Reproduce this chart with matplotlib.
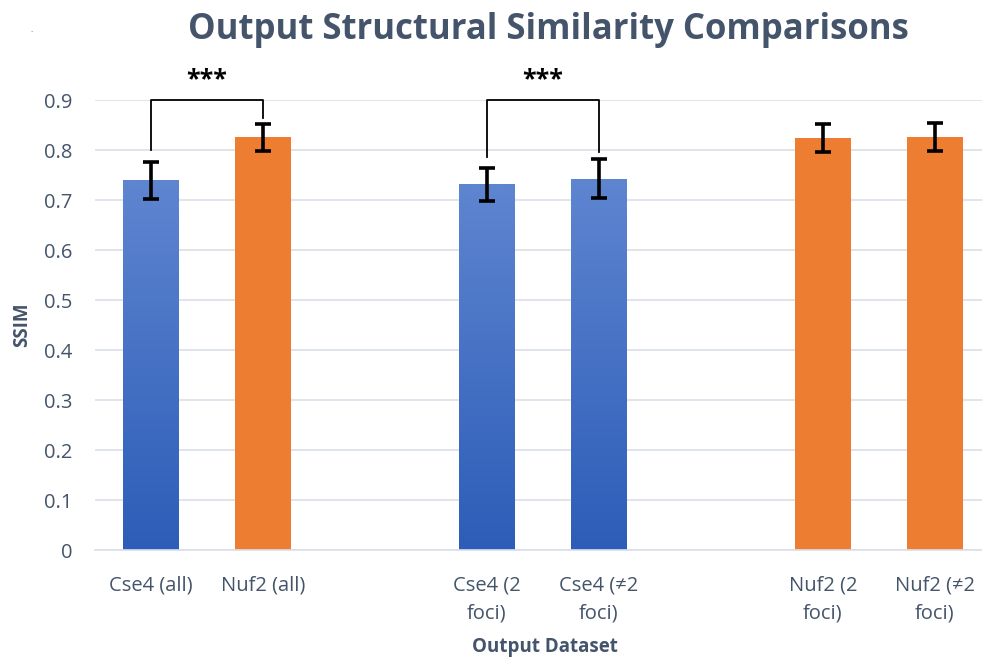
import numpy as np
import matplotlib.pyplot as plt
from matplotlib.colors import LinearSegmentedColormap

plt.rcParams['font.family'] = ['Open Sans', 'DejaVu Sans']

# Datasets (two empty slots separate the groups)
labels = ["Cse4 (all)", "Nuf2 (all)", "", "Cse4 (2\nfoci)", "Cse4 (\u22602\nfoci)",
          "", "Nuf2 (2\nfoci)", "Nuf2 (\u22602\nfoci)"]
ssim = [0.740, 0.826, np.nan, 0.732, 0.743, np.nan, 0.824, 0.826]
ssim_err = [0.037, 0.027, 0, 0.033, 0.039, 0, 0.028, 0.028]
protein = ["Cse4", "Nuf2", "", "Cse4", "Cse4", "", "Nuf2", "Nuf2"]

# significance brackets: (left bar, right bar, left leg end, right leg end)
brackets = [(0, 1, 0.80, 0.864), (3, 4, 0.786, 0.796)]
bracket_top = 0.90

text_col = "#44546A"
orange = "#ED7D31"
blue_grad = LinearSegmentedColormap.from_list("blue", ["#2D5DB8", "#5E85D0"])

fig = plt.figure(figsize=(9.82, 6.60), dpi=100)
ax = fig.add_axes([95 / 982, 110 / 660, 896 / 982, 450 / 660])

x = np.arange(len(labels))
width = 0.5
vals = np.nan_to_num(ssim)
colors = [orange if p == "Nuf2" else "#4472C4" for p in protein]
bars = ax.bar(x, vals, width, color=colors, zorder=2)

# vertical gradient on the Cse4 bars
grad = np.linspace(0, 1, 256).reshape(-1, 1)
for b, p in zip(bars, protein):
    if p != "Cse4":
        continue
    x0, w, h = b.get_x(), b.get_width(), b.get_height()
    im = ax.imshow(grad, cmap=blue_grad, aspect="auto", origin="lower",
                   extent=[x0, x0 + w, 0, h], zorder=2.1)
    im.set_clip_path(b)

mask = ~np.isnan(ssim)
ax.errorbar(x[mask], np.array(ssim)[mask], yerr=np.array(ssim_err)[mask],
            fmt="none", ecolor="black", elinewidth=2.6, capsize=6,
            capthick=2.6, zorder=3)

for i, j, yl, yr in brackets:
    ax.plot([i, i, j, j], [yl, bracket_top, bracket_top, yr], color="black",
            lw=1.3, clip_on=False, zorder=4)
    ax.text((i + j) / 2, bracket_top + 0.04, "***", ha="center", va="center",
            fontsize=18, fontweight="bold", color="black", clip_on=False)

ax.set_xlim(-0.5, len(labels) - 0.5)
ax.set_ylim(0, 0.9)
ax.set_yticks(np.arange(0, 0.91, 0.1))
ax.set_yticklabels(["0"] + [f"{v:.1f}" for v in np.arange(0.1, 0.91, 0.1)])
ax.set_xticks(x)
ax.set_xticklabels(labels, linespacing=1.55)
ax.tick_params(length=0, labelsize=14.5, colors=text_col)
ax.tick_params(axis="y", pad=16)
ax.tick_params(axis="x", pad=18)
ax.grid(axis="y", color="#D9DFEA", lw=1.2, zorder=0)
ax.set_axisbelow(True)
for s in ["top", "right", "left"]:
    ax.spines[s].set_visible(False)
ax.spines["bottom"].set_color("#D9DFEA")
ax.spines["bottom"].set_linewidth(1.2)

fig.text(22 / 982, 1 - 325 / 660, "SSIM", rotation=90, ha="center", va="center",
         fontsize=13.5, fontweight="bold", color=text_col)
fig.text(545 / 982, 1 - 647 / 660, "Output Dataset", ha="center", va="center",
         fontsize=13.5, fontweight="bold", color=text_col)
fig.text(548 / 982, 1 - 30 / 660, "Output Structural Similarity Comparisons",
         ha="center", va="center", fontsize=25, fontweight="bold", color=text_col)
fig.text(32 / 982, 1 - 30 / 660, ".", ha="center", va="center", fontsize=6,
         color="#555555")

fig.savefig("out.png", dpi=100)
